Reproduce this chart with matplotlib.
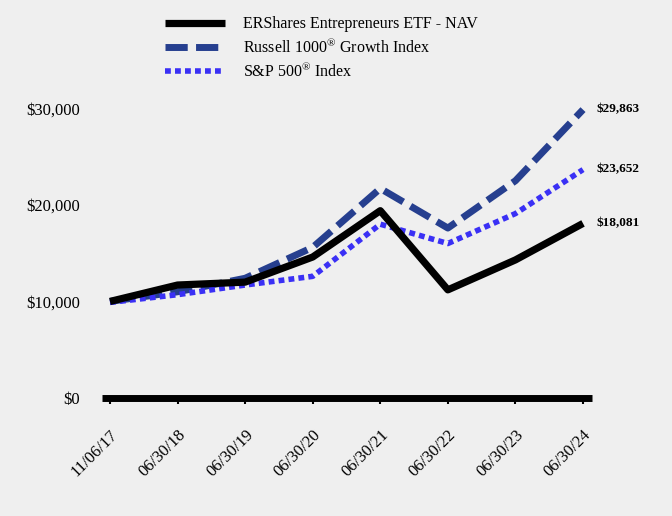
import matplotlib.pyplot as plt

dates = ["11/06/17", "06/30/18", "06/30/19", "06/30/20",
         "06/30/21", "06/30/22", "06/30/23", "06/30/24"]
etf = [10000, 11700, 12000, 14600, 19400, 11200, 14300, 18081]
russell = [10000, 11000, 12400, 15600, 21700, 17600, 22500, 29863]
sp500 = [9900, 10700, 11700, 12600, 18000, 16000, 19100, 23652]
yticks = [0, 10000, 20000, 30000]

plt.rcParams["font.family"] = ["Liberation Serif", "DejaVu Serif"]
plt.rcParams["mathtext.fontset"] = "custom"
plt.rcParams["mathtext.rm"] = "Liberation Serif"
bg = "#efefef"

fig = plt.figure(figsize=(6.72, 5.16), dpi=100, facecolor=bg)
ax = fig.add_axes([102 / 672, 118 / 516, 490 / 672, 309 / 516], facecolor=bg)

x = range(len(dates))
ax.plot(x, etf, color="black", lw=5.2, solid_capstyle="butt",
        label="ERShares Entrepreneurs ETF - NAV", zorder=4)
ax.plot(x, russell, color="#263f8f", lw=5, dashes=(3.2, 1.2),
        label=r"Russell 1000$^{\mathrm{®}}$ Growth Index", zorder=3)
ax.plot(x, sp500, color="#3a30f5", lw=4, dashes=(1.05, 0.75),
        label=r"S&P 500$^{\mathrm{®}}$ Index", zorder=3)

for series in (etf, russell, sp500):
    ax.text(len(dates) - 1 + 0.2, series[-1], f"${series[-1]:,}",
            fontsize=9.5, fontweight="bold", va="center", ha="left")

ax.set_xlim(-0.118, 7.133)
ax.set_ylim(0, 32000)
ax.set_xticks(list(x))
ax.set_xticklabels(dates, rotation=45, ha="right", va="top",
                   rotation_mode="anchor", fontsize=12)
ax.set_yticks(yticks)
ax.set_yticklabels([f"${v:,}" for v in yticks], fontsize=12)
ax.tick_params(axis="y", length=0, pad=16)
ax.tick_params(axis="x", length=4, width=1.5, color="black", pad=17)

for side in ("top", "right", "left"):
    ax.spines[side].set_visible(False)
ax.spines["bottom"].set_linewidth(5)
ax.spines["bottom"].set_capstyle("butt")

fig.legend(loc="upper left", bbox_to_anchor=(151 / 672, 1 - 2 / 516),
           frameon=False, fontsize=11.5, handlelength=3.75,
           handletextpad=1.1, labelspacing=0.35, facecolor=bg)

fig.savefig("out.png", dpi=100, facecolor=bg)
